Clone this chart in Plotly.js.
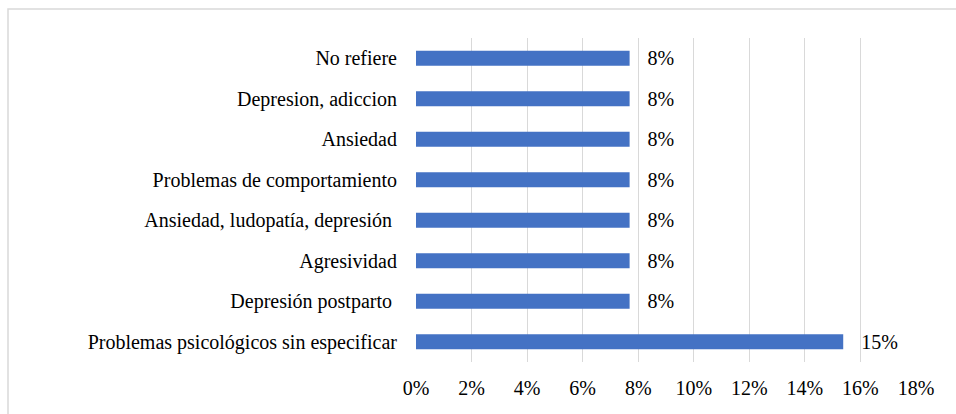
<!DOCTYPE html>
<html>
<head>
<meta charset="utf-8">
<script src="https://cdn.plot.ly/plotly-3.0.1.min.js"></script>
<style>
html,body{margin:0;padding:0;background:#fff;}
#chart{width:956px;height:414px;}
</style>
</head>
<body>
<div id="chart"></div>
<script>
const categories = [
  "Problemas psicológicos sin especificar",
  "Depresión postparto ",
  "Agresividad",
  "Ansiedad, ludopatía, depresión ",
  "Problemas de comportamiento",
  "Ansiedad",
  "Depresion, adiccion",
  "No refiere"
];
const values = [0.1538, 0.0769, 0.0769, 0.0769, 0.0769, 0.0769, 0.0769, 0.0769];
const tickVals = [0, 0.02, 0.04, 0.06, 0.08, 0.10, 0.12, 0.14, 0.16, 0.18];
const tickText = ["0%", "2%", "4%", "6%", "8%", "10%", "12%", "14%", "16%", "18%"];

const font = {family: "Times New Roman, Liberation Serif, DejaVu Serif, serif", size: 20, color: "#000"};

const trace = {
  type: "bar",
  orientation: "h",
  x: values,
  y: categories,
  marker: {color: "#4472C4"},
  texttemplate: "\u00a0\u00a0\u00a0%{x:.0%}",
  textposition: "outside",
  constraintext: "none",
  textfont: font,
  cliponaxis: false,
  hoverinfo: "none"
};

const layout = {
  width: 956,
  height: 414,
  margin: {l: 416, r: 40, t: 38, b: 52},
  paper_bgcolor: "#fff",
  plot_bgcolor: "#fff",
  font: font,
  showlegend: false,
  bargap: 0.63,
  xaxis: {
    range: [0, 0.18],
    tickvals: tickVals,
    ticktext: tickText,
    showgrid: true,
    gridcolor: "#d9d9d9",
    gridwidth: 1,
    zeroline: false,
    showline: false,
    ticks: "",
    ticklabelstandoff: 12,
    tickfont: font,
    fixedrange: true
  },
  yaxis: {
    type: "category",
    categoryorder: "array",
    categoryarray: categories,
    showgrid: false,
    zeroline: false,
    showline: false,
    ticks: "",
    ticklabelstandoff: 18,
    tickfont: font,
    fixedrange: true
  },
  shapes: [{
    type: "rect",
    xref: "paper", yref: "paper",
    x0: -0.816, x1: 1.2,
    y0: -0.3, y1: 1.0895,
    line: {color: "#d9d9d9", width: 1.5},
    fillcolor: "rgba(0,0,0,0)",
    layer: "below"
  }]
};

Plotly.newPlot("chart", [trace], layout, {displayModeBar: false, staticPlot: true});
</script>
</body>
</html>
